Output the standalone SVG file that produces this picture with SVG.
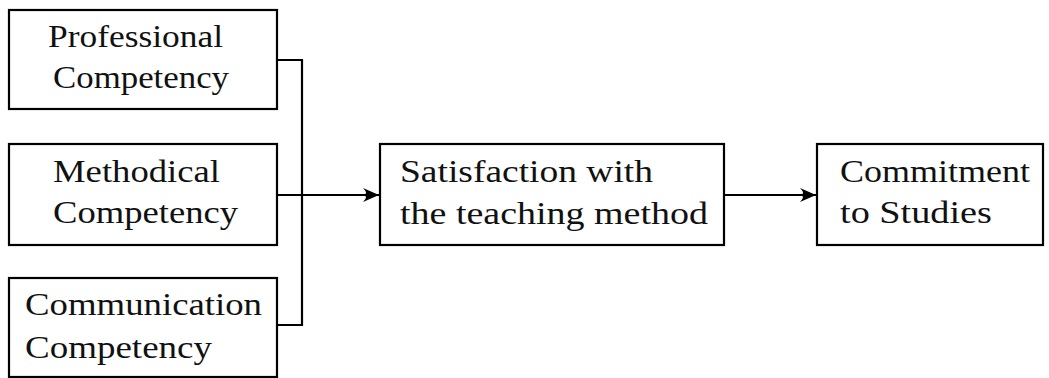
<svg xmlns="http://www.w3.org/2000/svg" width="1049" height="378" viewBox="0 0 1049 378">
<style>
.box{fill:#fff;stroke:#000;stroke-width:2.2}
.lbl{font-family:"Liberation Serif","Times New Roman",Times,serif;font-size:31px;fill:#111}
.wire{fill:none;stroke:#000;stroke-width:2.2}
</style>
<defs>
<marker id="arr" markerUnits="userSpaceOnUse" markerWidth="18" markerHeight="16" refX="16" refY="8" orient="auto">
<path d="M0,1 Q6,7 0,8 Q6,9 0,15 L16,8 Z" fill="#000"/>
</marker>
</defs>
<g id="connectors">
<path class="wire" d="M277,60 H302 V325 H277"/>
<path class="wire" d="M277,195 H379" marker-end="url(#arr)"/>
<path class="wire" d="M724,195 H816" marker-end="url(#arr)"/>
</g>
<g id="professional">
<rect class="box" x="9" y="10" width="268" height="99"/>
<text class="lbl" x="48" y="47" textLength="175" lengthAdjust="spacingAndGlyphs">Professional</text>
<text class="lbl" x="53" y="88" textLength="176" lengthAdjust="spacingAndGlyphs">Competency</text>
</g>
<g id="methodical">
<rect class="box" x="9" y="144" width="268" height="101"/>
<text class="lbl" x="53" y="182" textLength="167" lengthAdjust="spacingAndGlyphs">Methodical</text>
<text class="lbl" x="53" y="223" textLength="185" lengthAdjust="spacingAndGlyphs">Competency</text>
</g>
<g id="communication">
<rect class="box" x="9" y="278" width="268" height="99"/>
<text class="lbl" x="25" y="315" textLength="237" lengthAdjust="spacingAndGlyphs">Communication</text>
<text class="lbl" x="25" y="358" textLength="187" lengthAdjust="spacingAndGlyphs">Competency</text>
</g>
<g id="satisfaction">
<rect class="box" x="380" y="144" width="344" height="101"/>
<text class="lbl" x="400" y="182" textLength="253" lengthAdjust="spacingAndGlyphs">Satisfaction with</text>
<text class="lbl" x="400" y="224" textLength="308" lengthAdjust="spacingAndGlyphs">the teaching method</text>
</g>
<g id="commitment">
<rect class="box" x="817" y="144" width="226" height="101"/>
<text class="lbl" x="840" y="182" textLength="190" lengthAdjust="spacingAndGlyphs">Commitment</text>
<text class="lbl" x="840" y="223" textLength="152" lengthAdjust="spacingAndGlyphs">to Studies</text>
</g>
</svg>
